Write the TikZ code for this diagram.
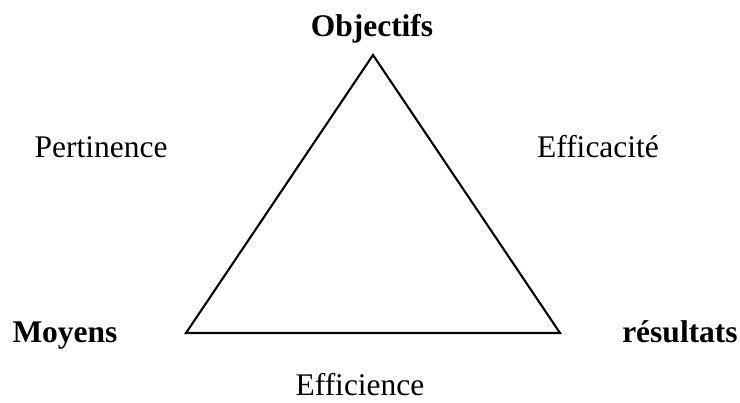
\documentclass[tikz,border=0pt]{standalone}
\usepackage{fontspec}
\setmainfont{Liberation Serif}
\begin{document}
\begin{tikzpicture}[x=1pt, y=-1pt,
        font=\fontsize{31.5}{36}\selectfont,
        pole/.style={anchor=base, font=\fontsize{31.5}{36}\selectfont\bfseries},
        crit/.style={anchor=base},
        side/.style={line width=2.1pt, line join=miter}
    ]
    \useasboundingbox (0,0) rectangle (740,403);
    \coordinate (top) at (373,55);
    \coordinate (left) at (186,333);
    \coordinate (right) at (560,333);
    \draw[side] (top) -- (right) -- (left) -- cycle;
    \node[pole] (objectifs) at (372,37) {Objectifs};
    \node[pole] (moyens) at (65,343) {Moyens};
    \node[pole] (resultats) at (680,343) {résultats};
    \node[crit] (pertinence) at (101,158) {Pertinence};
    \node[crit] (efficacite) at (598,158) {Efficacité};
    \node[crit] (efficience) at (360,396) {Efficience};
\end{tikzpicture}
\end{document}
